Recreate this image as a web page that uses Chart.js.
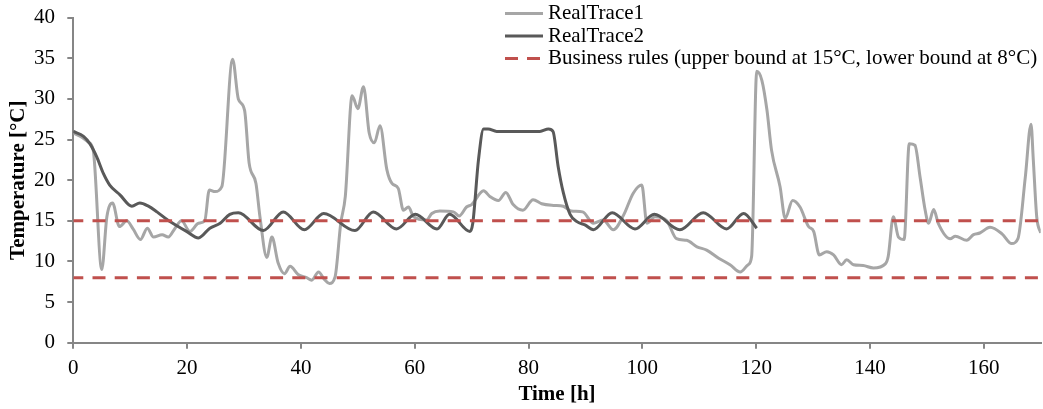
<!DOCTYPE html>
<html>
<head>
<meta charset="utf-8">
<script src="https://cdn.jsdelivr.net/npm/chart.js@4.4.0/dist/chart.umd.min.js"></script>
<style>
  html, body { margin: 0; padding: 0; background: #fff; }
</style>
</head>
<body>
<canvas id="myChart" width="1043" height="409"></canvas>
<script>
// RealTrace1 (light grey)
const trace1Hours = [0, 1.5, 2.6, 3.5, 5.0, 5.9, 6.9, 8.1, 9.4, 10.5, 11.8, 13.0, 14.1, 15.6, 16.7, 17.8, 19.0, 20.5, 22.0, 23.1,
  23.9, 24.9, 26.1, 28.0, 29.0, 30.1, 30.9, 32.1, 32.8, 34.0, 34.9, 36.0, 37.1, 38.1, 39.5, 41.0, 41.9, 43.1, 44.1, 45.0,
  46.0, 47.0, 47.8, 49.0, 50.0, 51.0, 52.0, 52.9, 53.9, 55.1, 56.0, 57.1, 58.0, 58.9, 59.8, 62.1, 63.0, 64.4, 66.8, 67.8,
  69.1, 70.0, 72.1, 73.2, 74.7, 76.0, 77.3, 79.0, 80.8, 82.3, 84.4, 86.1, 87.5, 89.5, 91.4, 93.1, 94.9, 96.7, 98.4, 99.9,
  100.8, 102.2, 104.3, 106.0, 107.8, 109.6, 111.3, 113.4, 115.4, 117.2, 118.6, 119.2, 120.1, 121.0, 121.9, 122.7, 124.2, 125.1, 126.4, 127.7,
  129.2, 130.1, 131.1, 132.4, 133.6, 135.0, 135.9, 137.1, 138.8, 140.6, 142.7, 143.2, 144.1, 145.0, 146.0, 146.9, 147.9, 148.8, 149.7, 150.3,
  151.2, 152.0, 154.1, 155.0, 157.0, 158.2, 159.3, 161.1, 163.2, 164.9, 166.0, 167.3, 168.3, 168.7, 169.3, 170.0];
const trace1Temps = [25.8, 25.3, 24.7, 23.7, 9.0, 15.5, 17.2, 14.3, 15.0, 14.0, 12.7, 14.1, 13.0, 13.3, 13.0, 14.0, 15.0, 13.7, 14.7, 15.0,
  18.8, 18.6, 19.2, 34.9, 30.0, 28.6, 22.1, 19.6, 15.5, 10.5, 13.0, 9.8, 8.5, 9.4, 8.4, 8.0, 7.7, 8.7, 7.8, 7.3,
  8.1, 14.7, 18.0, 30.4, 28.8, 31.5, 25.8, 24.6, 26.7, 21.3, 19.6, 19.0, 16.3, 16.7, 15.5, 15.1, 15.9, 16.2, 16.1, 15.6,
  16.7, 17.0, 18.7, 18.0, 17.5, 18.5, 17.0, 16.3, 17.6, 17.1, 16.9, 16.8, 16.2, 16.1, 14.7, 15.1, 13.9, 15.7, 18.4, 19.4,
  14.7, 15.5, 15.0, 12.8, 12.6, 11.8, 11.4, 10.4, 9.6, 8.7, 9.6, 10.6, 33.4, 32.3, 28.6, 23.7, 19.2, 15.3, 17.5, 16.7,
  14.3, 13.7, 10.8, 11.2, 10.8, 9.6, 10.2, 9.6, 9.5, 9.2, 9.7, 10.6, 15.5, 13.0, 12.7, 24.5, 24.3, 20.4, 16.3, 14.7,
  16.4, 14.7, 12.8, 13.1, 12.6, 13.3, 13.5, 14.2, 13.4, 12.2, 12.8, 20.4, 26.9, 22.5, 15.5, 13.5];

// RealTrace2 (dark grey)
const trace2Hours = [0, 1.8, 2.9, 4.1, 5.3, 6.4, 8.2, 10.3, 11.7, 13.2, 14.7, 16.4, 18.2, 19.9, 22.0, 24.0, 25.8, 27.5, 29.0, 33.4,
  36.9, 40.6, 44.0, 49.5, 52.7, 56.8, 60.1, 63.9, 66.1, 69.7, 70.2, 71.2, 72.1, 72.9, 74.4, 82.0, 83.5, 84.3, 85.2, 86.1,
  87.3, 88.5, 89.9, 91.4, 94.7, 98.7, 102.1, 106.6, 110.7, 114.8, 117.8, 120.1];
const trace2Temps = [26.0, 25.4, 24.5, 22.9, 20.8, 19.4, 18.2, 16.8, 17.2, 16.8, 16.1, 15.2, 14.4, 13.7, 12.9, 14.1, 14.7, 15.8, 16.0, 13.8,
  16.1, 13.9, 15.9, 13.8, 16.1, 14.0, 15.8, 14.0, 15.8, 13.7, 14.7, 22.5, 26.3, 26.3, 26.0, 26.0, 26.3, 26.0, 21.7, 18.5,
  15.8, 14.9, 14.5, 13.9, 16.0, 14.0, 15.8, 13.9, 16.0, 14.0, 15.9, 14.1];

// business rules
const upperBound = 15;
const lowerBound = 8;
const timeRange = [0, 170];

const seriesLabels = ['RealTrace1', 'RealTrace2', 'Business rules (upper bound at 15°C, lower bound at 8°C)'];
const xTicks = [0, 20, 40, 60, 80, 100, 120, 140, 160];
const yTicks = [0, 5, 10, 15, 20, 25, 30, 35, 40];

const LIGHT = '#a6a6a6';
const DARK = '#595959';
const RED = '#c0504d';
const AXIS = '#868686';
const FONT = "'Liberation Serif', 'Times New Roman', serif";

function toPoints(xs, ys) {
    return xs.map((x, i) => ({x: x, y: ys[i]}));
}

Chart.defaults.font.family = FONT;
Chart.defaults.font.size = 21;
Chart.defaults.color = '#000';

// legend drawn as a stacked list in the top right, like the original
const stackedLegend = {
    id: 'stackedLegend',
    afterDraw(chart) {
        const c = chart.ctx;
        const items = [
            {color: LIGHT, dash: []},
            {color: DARK, dash: []},
            {color: RED, dash: [13, 9]}
        ];
        c.save();
        c.font = '21px ' + FONT;
        c.textBaseline = 'middle';
        c.textAlign = 'left';
        items.forEach((it, i) => {
            const y = 13.5 + i * 22.5;
            c.strokeStyle = it.color;
            c.lineWidth = 3;
            c.setLineDash(it.dash);
            c.beginPath();
            c.moveTo(505, y);
            c.lineTo(543, y);
            c.stroke();
            c.setLineDash([]);
            c.fillStyle = '#000';
            c.fillText(seriesLabels[i], 548, y);
        });
        c.restore();
    }
};

function fixScale(w, h) {
    return function(s) {
        if (w !== null) s.width = w;
        if (h !== null) s.height = h;
        s.paddingTop = 0; s.paddingBottom = 0;
        s.paddingLeft = 0; s.paddingRight = 0;
    };
}

const lineStyle = {
    pointRadius: 0,
    borderWidth: 3,
    fill: false,
    cubicInterpolationMode: 'monotone'
};

const boundStyle = {
    borderColor: RED,
    borderWidth: 3,
    borderDash: [13, 9.2],
    borderDashOffset: 3,
    pointRadius: 0,
    order: 1
};

const config = {
    type: 'line',
    data: {
        datasets: [
            Object.assign({
                label: seriesLabels[0],
                data: toPoints(trace1Hours, trace1Temps),
                borderColor: LIGHT,
                order: 3
            }, lineStyle),
            Object.assign({
                label: seriesLabels[1],
                data: toPoints(trace2Hours, trace2Temps),
                borderColor: DARK,
                order: 2
            }, lineStyle),
            Object.assign({
                label: seriesLabels[2],
                data: toPoints(timeRange, [upperBound, upperBound])
            }, boundStyle),
            Object.assign({
                label: 'lower bound',
                data: toPoints(timeRange, [lowerBound, lowerBound])
            }, boundStyle)
        ]
    },
    options: {
        responsive: false,
        animation: false,
        devicePixelRatio: 1,
        layout: {padding: {top: 17.7, left: 0, right: 2.3, bottom: 0}},
        plugins: {
            legend: {display: false},
            tooltip: {enabled: false}
        },
        scales: {
            x: {
                type: 'linear',
                min: timeRange[0],
                max: timeRange[1],
                afterFit: fixScale(null, 66.3),
                afterBuildTicks: s => { s.ticks = xTicks.map(v => ({value: v})); },
                ticks: {padding: 7, color: '#000'},
                grid: {display: true, drawOnChartArea: false, drawTicks: true, tickLength: 6, color: AXIS, lineWidth: 2},
                border: {display: true, color: AXIS, width: 2},
                title: {display: true, text: 'Time [h]', font: {weight: 'bold'}, color: '#000', padding: {top: 0, bottom: 1.9}}
            },
            y: {
                min: 0,
                max: 40,
                afterFit: fixScale(73.3, null),
                afterBuildTicks: s => { s.ticks = yTicks.map(v => ({value: v})); },
                ticks: {padding: 12.3, color: '#000'},
                grid: {display: true, drawOnChartArea: false, drawTicks: true, tickLength: 6, color: AXIS, lineWidth: 2},
                border: {display: true, color: AXIS, width: 2},
                title: {display: true, text: 'Temperature [°C]', font: {weight: 'bold'}, color: '#000', padding: {top: 5.7, bottom: 0}}
            }
        }
    },
    plugins: [stackedLegend]
};

new Chart(document.getElementById('myChart'), config);
</script>
</body>
</html>
